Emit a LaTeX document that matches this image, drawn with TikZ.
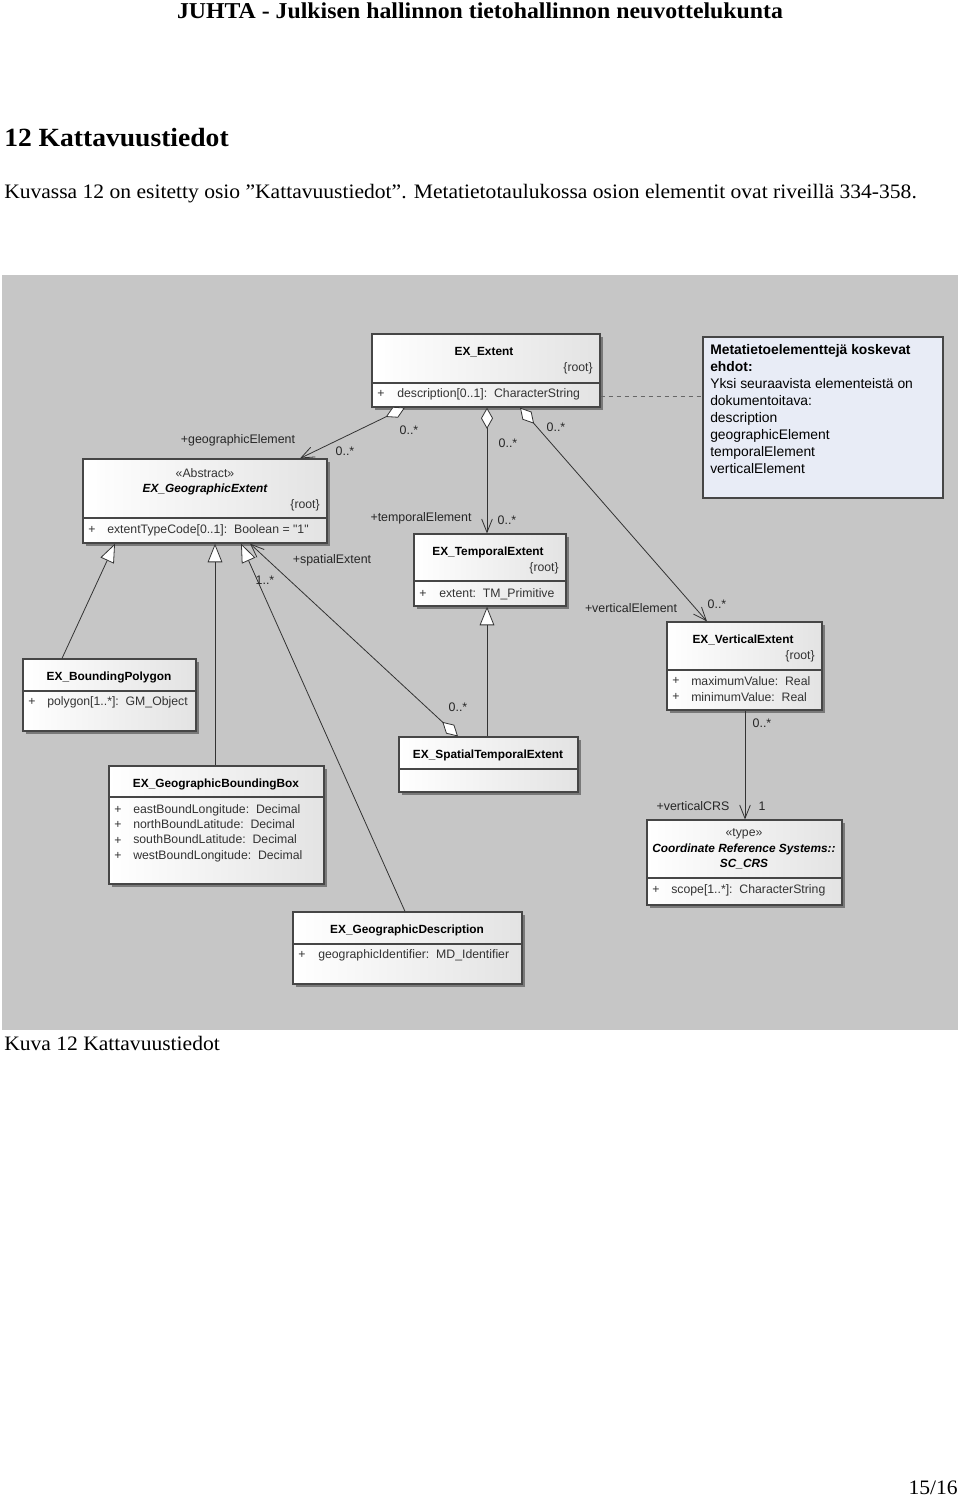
\documentclass[tikz,border=0pt]{standalone}
\usepackage{fontspec}
\setmainfont{Liberation Serif}
\newfontfamily\pagefont[FakeStretch=1.05]{Liberation Serif}
\newfontfamily\umlfont{Liberation Sans}
\usetikzlibrary{arrows.meta,shadows,fit,calc}
\definecolor{canvasgray}{RGB}{198,198,198}
\definecolor{boxline}{RGB}{70,70,70}
\definecolor{noteblue}{RGB}{232,236,246}

\begin{document}
\begin{tikzpicture}[x=0.75pt,y=-0.75pt]
			\tikzstyle{umlbox}=[draw=boxline,line width=0.9pt,inner sep=0pt,left color=white,right color=gray!22,drop shadow={shadow xshift=2pt,shadow yshift=-2pt,fill=gray!55!black,opacity=0.6}]
			\tikzstyle{notebox}=[draw=boxline,line width=0.9pt,inner sep=0pt,fill=noteblue]
			\tikzstyle{umlname}=[font=\umlfont\bfseries\fontsize{8.9}{10}\selectfont,inner sep=0pt]
			\tikzstyle{umlitalic}=[font=\umlfont\bfseries\itshape\fontsize{8.9}{10}\selectfont,inner sep=0pt]
			\tikzstyle{umltext}=[font=\umlfont\fontsize{9.2}{11.5}\selectfont,inner sep=0pt,text=black!80]
			\tikzstyle{umlattr}=[umltext,anchor=west]
			\tikzstyle{role}=[font=\umlfont\fontsize{9.3}{10}\selectfont,inner sep=0pt,text=black!85]
			\tikzstyle{divider}=[draw=boxline,line width=0.8pt]
			\tikzstyle{assoc}=[draw=black!80,line width=0.6pt,{Diamond[length=16pt,width=9pt,fill=white]}-{Straight Barb[length=10pt,width=8pt]}]
			\tikzstyle{navig}=[draw=black!80,line width=0.6pt,-{Straight Barb[length=10pt,width=8pt]}]
			\tikzstyle{generalize}=[draw=black!80,line width=0.6pt,-{Triangle[length=14pt,width=11pt,fill=white]}]
			\useasboundingbox (0,0) rectangle (960,1497);

			% page text
			\node[font=\pagefont\bfseries\fontsize{17}{20}\selectfont,inner sep=0pt] (header) at (480,11) {JUHTA - Julkisen hallinnon tietohallinnon neuvottelukunta};
			\node[font=\pagefont\bfseries\fontsize{19.7}{23}\selectfont,inner sep=0pt,anchor=base west] (title) at (4,146) {12 Kattavuustiedot};
			\node[font=\pagefont\fontsize{15.4}{18}\selectfont,inner sep=0pt,anchor=base west] (intro) at (4,198) {Kuvassa 12 on esitetty osio ”Kattavuustiedot”. Metatietotaulukossa osion elementit ovat riveillä 334-358.};
			\node[font=\pagefont\fontsize{15.4}{18}\selectfont,inner sep=0pt,anchor=base west] (caption) at (4,1050) {Kuva 12 Kattavuustiedot};
			\node[font=\pagefont\fontsize{15.4}{18}\selectfont,inner sep=0pt,anchor=base east] (pageno) at (958,1494) {15/16};

			% diagram canvas
			\node[fill=canvasgray,inner sep=0pt,fit={(2,275) (958,1030)}] (canvas) {};

			% classes
			\node[umlbox,fit={(372,334) (600,407)}] (extent) {};
			\draw[divider] (extent.west |- 0,383) -- (extent.east |- 0,383);
			\node[umlname] (extent-name) at (484,352) {EX\_Extent};
			\node[umltext,anchor=east] (extent-root) at (593,368) {\{root\}};
			\node[umlattr] (extent-plus) at (377,394) {+};
			\node[umlattr] (extent-attr) at (397,394) {description[0..1]:\ \ CharacterString};

			\node[notebox,fit={(703,337) (943,498)}] (note) {};
			\node[font=\umlfont\fontsize{10.4}{12.75}\selectfont,inner sep=0pt,anchor=north west,align=left] (note-text) at (710,344) {\textbf{Metatietoelementtejä koskevat}\\\textbf{ehdot:}\\Yksi seuraavista elementeistä on\\dokumentoitava:\\description\\geographicElement\\temporalElement\\verticalElement};

			\node[umlbox,fit={(83,459) (327,543)}] (geo) {};
			\draw[divider] (geo.west |- 0,518) -- (geo.east |- 0,518);
			\node[umltext] (geo-stereo) at (205,473) {«Abstract»};
			\node[umlitalic] (geo-name) at (205,489) {EX\_GeographicExtent};
			\node[umltext,anchor=east] (geo-root) at (320,505) {\{root\}};
			\node[umlattr] (geo-plus) at (88,530) {+};
			\node[umlattr] (geo-attr) at (107,530) {extentTypeCode[0..1]:\ \ Boolean = "1"};

			\node[umlbox,fit={(414,534) (566,606)}] (temporal) {};
			\draw[divider] (temporal.west |- 0,581) -- (temporal.east |- 0,581);
			\node[umlname] (temporal-name) at (488,552) {EX\_TemporalExtent};
			\node[umltext,anchor=east] (temporal-root) at (559,568) {\{root\}};
			\node[umlattr] (temporal-plus) at (419,594) {+};
			\node[umlattr] (temporal-attr) at (439,594) {extent:\ \ TM\_Primitive};

			\node[umlbox,fit={(667,622) (822,710)}] (vertical) {};
			\draw[divider] (vertical.west |- 0,670) -- (vertical.east |- 0,670);
			\node[umlname] (vertical-name) at (743,640) {EX\_VerticalExtent};
			\node[umltext,anchor=east] (vertical-root) at (815,656) {\{root\}};
			\node[umlattr] (vertical-plus1) at (672,681) {+};
			\node[umlattr] (vertical-max) at (691,681) {maximumValue:\ \ Real};
			\node[umlattr] (vertical-plus2) at (672,697) {+};
			\node[umlattr] (vertical-min) at (691,697) {minimumValue:\ \ Real};

			\node[umlbox,fit={(23,659) (196,731)}] (polygon) {};
			\draw[divider] (polygon.west |- 0,691) -- (polygon.east |- 0,691);
			\node[umlname] (polygon-name) at (109,677) {EX\_BoundingPolygon};
			\node[umlattr] (polygon-plus) at (28,702) {+};
			\node[umlattr] (polygon-attr) at (47,702) {polygon[1..*]:\ \ GM\_Object};

			\node[umlbox,fit={(109,766) (324,884)}] (bbox) {};
			\draw[divider] (bbox.west |- 0,797) -- (bbox.east |- 0,797);
			\node[umlname] (bbox-name) at (216,784) {EX\_GeographicBoundingBox};
			\node[umlattr,align=left] (bbox-plus) at (114,833) {+\\+\\+\\+};
			\node[umlattr,align=left] (bbox-attr) at (133,833) {eastBoundLongitude:\ \ Decimal\\northBoundLatitude:\ \ Decimal\\southBoundLatitude:\ \ Decimal\\westBoundLongitude:\ \ Decimal};

			\node[umlbox,fit={(399,737) (578,792)}] (spatemp) {};
			\draw[divider] (spatemp.west |- 0,769) -- (spatemp.east |- 0,769);
			\node[umlname] (spatemp-name) at (488,755) {EX\_SpatialTemporalExtent};

			\node[umlbox,fit={(647,820) (842,905)}] (crs) {};
			\draw[divider] (crs.west |- 0,878) -- (crs.east |- 0,878);
			\node[umltext] (crs-stereo) at (744,834) {«type»};
			\node[umlitalic] (crs-name) at (744,849) {Coordinate Reference Systems::};
			\node[umlitalic] (crs-name2) at (744,864) {SC\_CRS};
			\node[umlattr] (crs-plus) at (652,890) {+};
			\node[umlattr] (crs-attr) at (671,890) {scope[1..*]:\ \ CharacterString};

			\node[umlbox,fit={(293,912) (522,984)}] (descr) {};
			\draw[divider] (descr.west |- 0,944) -- (descr.east |- 0,944);
			\node[umlname] (descr-name) at (407,930) {EX\_GeographicDescription};
			\node[umlattr] (descr-plus) at (298,955) {+};
			\node[umlattr] (descr-attr) at (318,955) {geographicIdentifier:\ \ MD\_Identifier};

			% connectors
			\draw[dashed,draw=black!60] (extent.east |- 0,396) -- (note.west |- 0,396);
			\draw[assoc] (extent.south -| 405,0) -- (geo.north -| 300,0);
			\draw[assoc] (extent.south -| 487,0) -- (temporal.north -| 487,0);
			\draw[assoc] (extent.south -| 520,0) -- (vertical.north -| 707,0);
			\draw[assoc] (spatemp.north -| 458,0) -- (geo.south -| 250,0);
			\draw[navig] (vertical.south -| 745,0) -- (crs.north -| 745,0);
			\draw[generalize] (polygon.north -| 62,0) -- (geo.south -| 115,0);
			\draw[generalize] (bbox.north -| 215,0) -- (geo.south -| 215,0);
			\draw[generalize] (descr.north -| 405,0) -- (geo.south -| 241,0);
			\draw[generalize] (spatemp.north -| 487,0) -- (temporal.south -| 487,0);

			% roles and multiplicities
			\node[role] (geo-role) at (238,440) {+geographicElement};
			\node[role] (geo-mult) at (345,451) {0..*};
			\node[role] (geo-agg) at (409,430) {0..*};
			\node[role] (temporal-agg) at (508,443) {0..*};
			\node[role] (vertical-agg) at (556,427) {0..*};
			\node[role] (temporal-role) at (421,518) {+temporalElement};
			\node[role] (temporal-mult) at (507,520) {0..*};
			\node[role] (spatial-role) at (332,560) {+spatialExtent};
			\node[role] (spatial-mult) at (265,580) {1..*};
			\node[role] (spatemp-agg) at (458,707) {0..*};
			\node[role] (vertical-role) at (631,608) {+verticalElement};
			\node[role] (vertical-mult) at (717,604) {0..*};
			\node[role] (crs-agg) at (762,723) {0..*};
			\node[role] (crs-role) at (693,806) {+verticalCRS};
			\node[role] (crs-mult) at (762,806) {1};
		\end{tikzpicture}
\end{document}
